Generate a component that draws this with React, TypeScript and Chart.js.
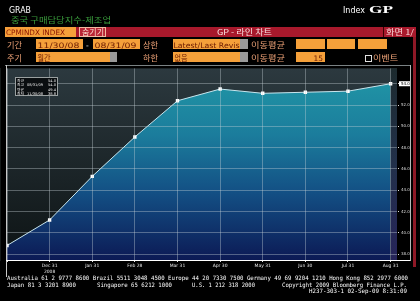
import React, { useEffect, useRef } from 'react';
import { Chart, registerables } from 'chart.js';
Chart.register(...registerables);

// ---- data ----
const categories = ['2008-11-30', '2008-12-31', '2009-01-31', '2009-02-28', '2009-03-31', '2009-04-30', '2009-05-31', '2009-06-30', '2009-07-31', '2009-08-31'];
const pmiValues = [38.8, 41.2, 45.3, 49.0, 52.4, 53.5, 53.1, 53.2, 53.3, 54.0];
const xTickLabels: (string | string[])[] = ['', ['Dec 31', '2008'], 'Jan 31', 'Feb 28', 'Mar 31', 'Apr 30', 'May 31', 'Jun 30', 'Jul 31', 'Aug 31'];
const yTickValues = [38, 40, 42, 44, 46, 48, 50, 52, 54];
const Y_MIN = 37.44;
const Y_MAX = 55.44;
const X_MAX = 9.15;

const fmtDate = (iso: string) => {
  const [y, m, d] = iso.split('-');
  return `${m}/${d}/${y.slice(2)}`;
};

const SANS = 'DejaVu Sans';
const MONO = 'DejaVu Sans Mono';
const KR = 'Noto Sans CJK KR';

type TP = { x: number; y: number; s?: number; len?: number; c?: string; f?: string; a?: 'start' | 'middle' | 'end'; w?: string | number; children: React.ReactNode };
const T = ({ x, y, s = 8, len, c = '#fff', f = SANS, a = 'start', w = 'normal', children }: TP) => (
  <text x={x} y={y} fontSize={s} fill={c} fontFamily={f} textAnchor={a} fontWeight={w as any}
    {...(len ? { textLength: len, lengthAdjust: 'spacingAndGlyphs' } : {})}>{children}</text>
);

const ORANGE = '#f5a03a';
const BOXTXT = '#6b1a00';
const LBL = '#f0a478';
const RED = '#a8192c';

export default function App() {
  const ref = useRef<HTMLCanvasElement | null>(null);

  useEffect(() => {
    const canvas = ref.current!;
    const bgPlugin = {
      id: 'bg',
      beforeDraw(chart: any) {
        const { ctx, chartArea: a, scales } = chart;
        if (!a) return;
        ctx.save();
        const g = ctx.createLinearGradient(0, a.top, 0, a.bottom);
        g.addColorStop(0, '#2c393f');
        g.addColorStop(1, '#0d1314');
        ctx.fillStyle = g;
        ctx.fillRect(a.left, a.top, a.right - a.left, a.bottom - a.top);
        const lx = scales.x.getPixelForValue(pmiValues.length - 1);
        const g2 = ctx.createLinearGradient(0, a.top, 0, a.bottom);
        g2.addColorStop(0, '#1c2a2e');
        g2.addColorStop(0.5, '#22304a');
        g2.addColorStop(1, '#26245a');
        ctx.fillStyle = g2;
        ctx.fillRect(lx, a.top, a.right - lx, a.bottom - a.top);
        ctx.restore();
      },
    };
    const lastPlugin = {
      id: 'lastValue',
      afterDraw(chart: any) {
        const { ctx, scales, chartArea: a } = chart;
        const v = pmiValues[pmiValues.length - 1];
        const y = scales.y.getPixelForValue(v);
        ctx.save();
        ctx.fillStyle = '#ffffff';
        ctx.fillRect(a.right + 2, y - 2.5, 12, 5);
        ctx.fillStyle = '#000000';
        ctx.font = `4px "${SANS}"`;
        ctx.textBaseline = 'middle';
        ctx.fillText(v.toFixed(1), a.right + 4, y + 0.3);
        ctx.restore();
      },
    };
    const chart = new Chart(canvas, {
      type: 'line',
      data: {
        datasets: [
          {
            data: pmiValues.map((v, i) => ({ x: i, y: v })),
            borderColor: '#c8e6ee',
            borderWidth: 1,
            pointStyle: 'rect',
            pointRadius: 2.4,
            pointBackgroundColor: '#ffffff',
            pointBorderWidth: 0,
            tension: 0,
            fill: 'start',
            backgroundColor: (c: any) => {
              const { chart: ch } = c;
              const a = ch.chartArea;
              if (!a) return '#1a6a90';
              const g = ch.ctx.createLinearGradient(0, a.top, 0, a.bottom);
              g.addColorStop(0, '#2199a7');
              g.addColorStop(0.35, '#1b7c9c');
              g.addColorStop(0.65, '#134f84');
              g.addColorStop(1, '#0c1a55');
              return g;
            },
          },
        ],
      },
      options: {
        responsive: false,
        animation: false,
        events: [],
        layout: { padding: { left: 7, top: 2, right: 10, bottom: 2 } },
        plugins: { legend: { display: false }, tooltip: { enabled: false } },
        scales: {
          x: {
            type: 'linear',
            min: 0,
            max: X_MAX,
            afterBuildTicks: (s: any) => {
              s.ticks = categories.map((_, i) => ({ value: i }));
            },
            afterFit: (s: any) => {
              s.height = 16;
            },
            ticks: {
              autoSkip: false,
              maxRotation: 0,
              color: '#e4e4e4',
              padding: 1,
              font: { size: 4.5, family: SANS, lineHeight: 1.3 },
              callback: (v: any) => xTickLabels[v] ?? '',
            },
            grid: { color: 'rgba(200,210,215,0.38)', tickColor: '#e0e0e0', tickLength: 2, lineWidth: 1, z: 1 },
            border: { display: true, color: '#ffffff', width: 1, z: 2 },
          },
          y: {
            position: 'right',
            min: Y_MIN,
            max: Y_MAX,
            afterBuildTicks: (s: any) => {
              s.ticks = yTickValues.map((v) => ({ value: v }));
            },
            afterFit: (s: any) => {
              s.width = 13;
            },
            ticks: {
              color: '#d8d8d8',
              padding: 2,
              font: { size: 4, family: SANS },
              callback: (v: any) => Number(v).toFixed(1),
            },
            grid: { color: 'rgba(200,210,215,0.38)', tickColor: '#e0e0e0', tickLength: 2, lineWidth: 1, z: 1 },
            border: { display: true, color: '#2a3434', width: 1 },
          },
        },
      } as any,
      plugins: [bgPlugin, lastPlugin],
    });
    return () => chart.destroy();
  }, []);

  const n = pmiValues.length;
  const last = pmiValues[n - 1];
  const hi = Math.max(...pmiValues);
  const lo = Math.min(...pmiValues);
  const avg = pmiValues.reduce((a, b) => a + b, 0) / n;
  const hiDate = fmtDate(categories[pmiValues.indexOf(hi)]);
  const loDate = fmtDate(categories[pmiValues.indexOf(lo)]);
  const statRows: [string, string, string][] = [
    ['최근', '', last.toFixed(1)],
    ['최고', hiDate, hi.toFixed(1)],
    ['평균', '', avg.toFixed(1)],
    ['최저', loDate, lo.toFixed(1)],
  ];

  return (
    <div style={{ position: 'fixed', left: 0, top: 0, width: 420, height: 301, background: '#000', overflow: 'hidden' }}>
      <canvas ref={ref} width={420} height={214} style={{ position: 'absolute', left: 0, top: 64, width: 420, height: 214 }} />
      <svg width={420} height={301} style={{ position: 'absolute', left: 0, top: 0, pointerEvents: 'none' }}>
        {/* title area */}
        <T x={9} y={13} s={8} len={22}>GRAB</T>
        <T x={11} y={22.5} s={8} len={100} c="#3a9c3c" f={KR}>중국 구매담당지수-제조업</T>
        <T x={343} y={13} s={8.5} len={22}>Index</T>
        <T x={369} y={13} s={10} len={24} f="Liberation Serif" w="bold">GP</T>

        {/* red bar */}
        <rect x={5} y={27} width={411} height={10} fill={RED} />
        <rect x={5} y={27} width={71} height={10} fill={ORANGE} />
        <T x={6} y={35} s={7.5} len={59} c="#8a1200">CPMINDX INDEX</T>
        <rect x={79.5} y={27.5} width={26} height={9} fill="#b82636" stroke="#f2b8a0" strokeWidth={1} />
        <T x={82} y={35} s={7.5} len={22} c="#fde2d2" f={KR}>숨기기</T>
        <T x={217} y={35} s={7.5} len={55} c="#fbe4e4" f={KR}>GP - 라인 차트</T>
        <line x1={383.5} y1={27} x2={383.5} y2={37} stroke="#3a0000" strokeWidth={1} />
        <T x={386} y={35} s={7.5} len={28} c="#fbdada" f={KR}>화면 1/</T>

        {/* row 2 */}
        <T x={7} y={47.5} s={7.5} len={15} c={LBL} f={KR}>기간</T>
        <rect x={36} y={39} width={47} height={10} fill={ORANGE} />
        <T x={37.5} y={47.5} s={7.5} len={42} c={BOXTXT}>11/30/08</T>
        <T x={86} y={47.5} s={7.5} c="#e0e0e0">-</T>
        <rect x={93} y={39} width={47} height={10} fill={ORANGE} />
        <T x={94.5} y={47.5} s={7.5} len={42} c={BOXTXT}>08/31/09</T>
        <T x={143} y={47.5} s={7.5} len={15} c={LBL} f={KR}>상한</T>
        <rect x={173} y={39} width={67} height={10} fill={ORANGE} />
        <rect x={240} y={39} width={8} height={10} fill="#9a9a9a" />
        <T x={173.5} y={47.5} s={7.5} len={66} c={BOXTXT}>Latest/Last Revis</T>
        <T x={251} y={47.5} s={7.5} len={34} c={LBL} f={KR}>이동평균</T>
        <rect x={296} y={39} width={29} height={10} fill={ORANGE} />
        <rect x={327} y={39} width={28} height={10} fill={ORANGE} />
        <rect x={358} y={39} width={29} height={10} fill={ORANGE} />

        {/* row 3 */}
        <T x={7} y={60.5} s={7.5} len={15} c={LBL} f={KR}>주기</T>
        <rect x={36} y={52} width={74} height={10} fill={ORANGE} />
        <rect x={110} y={52} width={7} height={10} fill="#9a9a9a" />
        <T x={37.5} y={60.5} s={7.5} len={13} c={BOXTXT} f={KR}>월간</T>
        <T x={143} y={60.5} s={7.5} len={15} c={LBL} f={KR}>하한</T>
        <rect x={173} y={52} width={67} height={10} fill={ORANGE} />
        <rect x={240} y={52} width={8} height={10} fill="#9a9a9a" />
        <T x={174.5} y={60.5} s={7.5} len={13} c={BOXTXT} f={KR}>없음</T>
        <T x={251} y={60.5} s={7.5} len={34} c={LBL} f={KR}>이동평균</T>
        <rect x={296} y={52} width={29} height={10} fill={ORANGE} />
        <T x={323} y={60.5} s={7.5} c={BOXTXT} a="end">15</T>
        <rect x={365.5} y={55.5} width={6} height={6} fill="none" stroke="#e0e0e0" strokeWidth={1} />
        <T x={373} y={60.5} s={7.5} len={25} c={LBL} f={KR}>이벤트</T>

        {/* frame lines */}
        <line x1={5} y1={65.5} x2={411} y2={65.5} stroke="#7a8284" strokeWidth={1} />
        <line x1={6.5} y1={65} x2={6.5} y2={277} stroke="#c8c8c8" strokeWidth={1} />
        <line x1={6} y1={260.5} x2={411} y2={260.5} stroke="#ffffff" strokeWidth={1} />
        <line x1={410.5} y1={65} x2={410.5} y2={261} stroke="#b8b8b8" strokeWidth={1} />
        <rect x={413} y={37} width={3} height={230} fill="#8e1826" />

        {/* stats box */}
        <rect x={15.5} y={77.5} width={42} height={18} fill="#0a0e10" stroke="#9aa0a0" strokeWidth={1} />
        {statRows.map((r, i) => (
          <g key={i}>
            <T x={17} y={82 + i * 4.3} s={3.8} c="#e8e8e8" f={KR}>{r[0]}</T>
            <T x={27} y={82 + i * 4.3} s={3.6} c="#e8e8e8">{r[1]}</T>
            <T x={56} y={82 + i * 4.3} s={3.6} c="#e8e8e8" a="end">{r[2]}</T>
          </g>
        ))}

        {/* footer */}
        <T x={7} y={280} s={6} len={401} f={MONO}>Australia 61 2 9777 8600 Brazil 5511 3048 4500 Europe 44 20 7330 7500 Germany 49 69 9204 1210 Hong Kong 852 2977 6000</T>
        <T x={7} y={286.5} s={6} len={69} f={MONO}>Japan 81 3 3201 8900</T>
        <T x={97} y={286.5} s={6} len={75} f={MONO}>Singapore 65 6212 1000</T>
        <T x={192} y={286.5} s={6} len={63} f={MONO}>U.S. 1 212 318 2000</T>
        <T x={282} y={286.5} s={6} len={125} f={MONO}>Copyright 2009 Bloomberg Finance L.P.</T>
        <T x={309} y={292.5} s={6} len={98} f={MONO}>H237-303-1 02-Sep-09  8:31:09</T>
      </svg>
    </div>
  );
}
